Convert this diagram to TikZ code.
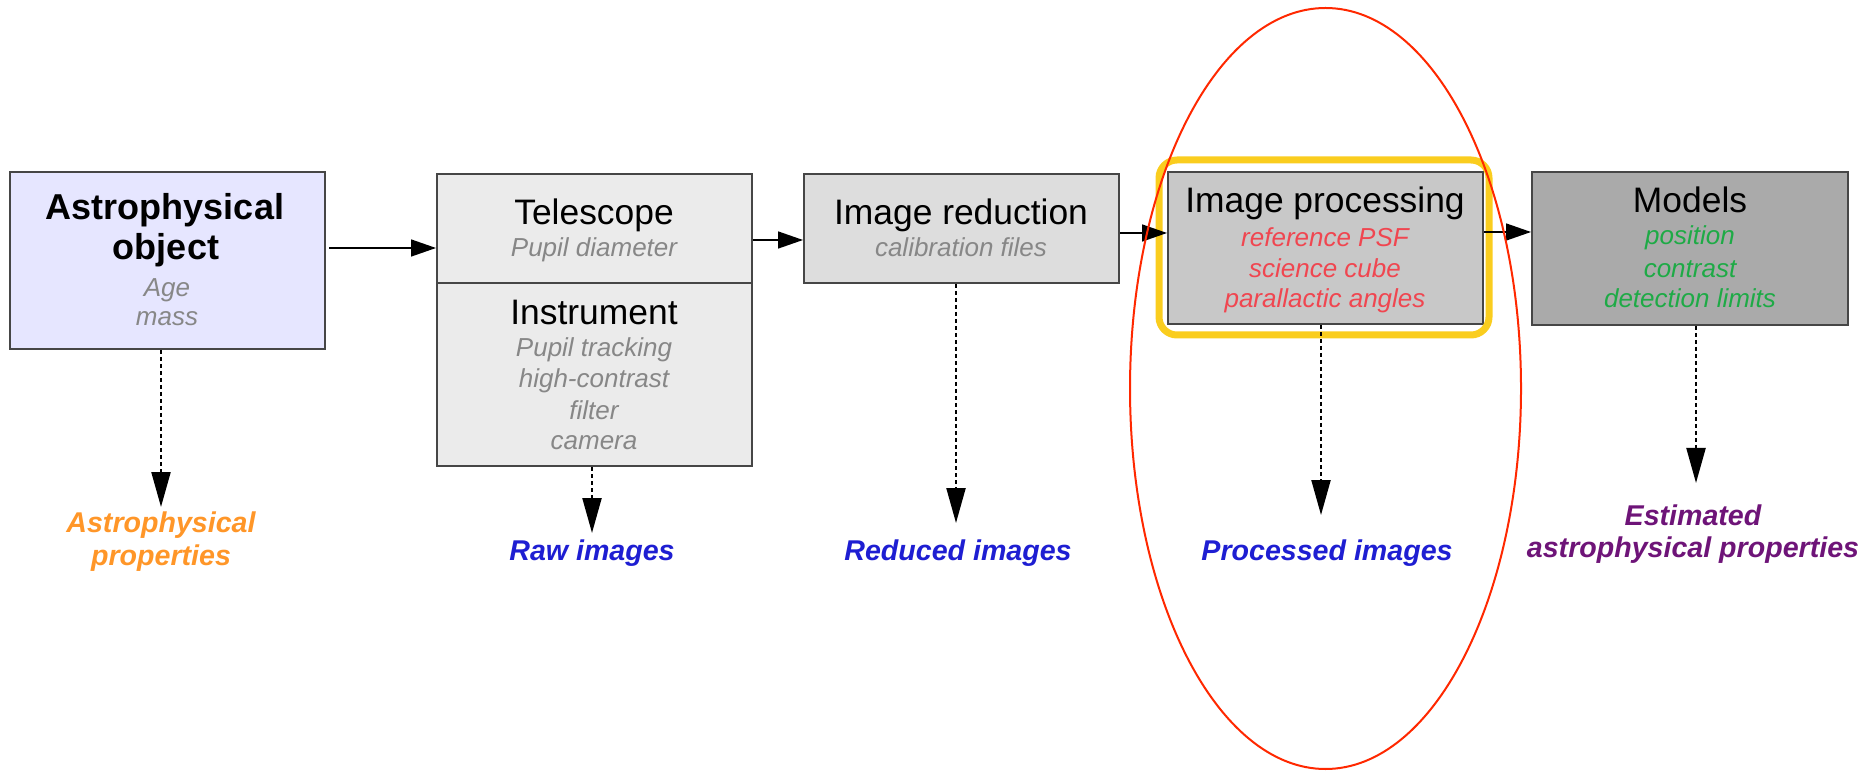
\documentclass[tikz,border=0pt]{standalone}
\usepackage{fontspec}
\setmainfont{Liberation Sans}
\usetikzlibrary{arrows.meta,fit}
\definecolor{objfill}{RGB}{230,230,255}
\definecolor{telfill}{RGB}{235,235,235}
\definecolor{redfill}{RGB}{221,221,221}
\definecolor{procfill}{RGB}{200,200,200}
\definecolor{modfill}{RGB}{170,170,170}
\definecolor{subgray}{RGB}{135,135,135}
\definecolor{subred}{RGB}{240,70,80}
\definecolor{subgreen}{RGB}{30,170,70}
\definecolor{lblorange}{RGB}{255,150,40}
\definecolor{lblblue}{RGB}{30,30,210}
\definecolor{lblpurple}{RGB}{110,20,120}
\definecolor{ellred}{RGB}{255,40,0}
\definecolor{yel}{RGB}{250,205,30}
\definecolor{edge}{RGB}{70,70,70}
\tikzset{
  box/.style={draw=edge, line width=1pt, inner sep=0pt},
  ttl/.style={font=\fontsize{17.7}{21}\selectfont, anchor=base, inner sep=0pt},
  bttl/.style={font=\fontsize{18}{21}\selectfont\bfseries, anchor=base, inner sep=0pt},
  sub/.style={font=\fontsize{13}{15}\selectfont\itshape, anchor=base, inner sep=0pt},
  lbl/.style={font=\fontsize{14.3}{17}\selectfont\bfseries\itshape, anchor=base, inner sep=0pt},
  flow/.style={-{Triangle[length=12.5pt,width=8.5pt]}, line width=0.75pt},
  outarrow/.style={dash pattern=on 2pt off 1.5pt, line width=1.1pt, -{Triangle[length=17.5pt,width=9.5pt]}},
  hilite/.style={draw=yel, line width=3.5pt, rounded corners=9pt},
  ellip/.style={draw=ellred, line width=1pt},
}
\begin{document}
\begin{tikzpicture}[x=0.5pt,y=-0.5pt]
\useasboundingbox (0,0) rectangle (1866,774);
% boxes
\node[box, fill=objfill, fit={(10,172) (325,349)}] (obj) {};
\node[box, fill=telfill, fit={(437,174) (752,466)}] (tel) {};
\node[box, fill=redfill, fit={(804,174) (1119,283)}] (red) {};
\node[box, fill=procfill, fit={(1168,172) (1483,324)}] (proc) {};
\node[box, fill=modfill, fit={(1532,172) (1848,325)}] (mod) {};
\coordinate (div) at (0,283);
\draw[draw=edge, line width=1pt] (tel.west |- div) -- (tel.east |- div);
% box 1 texts
\node[bttl] (t1a) at (165,220) {Astrophysical};
\node[bttl] (t1b) at (166,260) {object};
\node[sub, text=subgray] (s1a) at (167,297) {Age};
\node[sub, text=subgray] (s1b) at (167,326) {mass};
% box 2 texts
\node[ttl] (t2a) at (594,225) {Telescope};
\node[sub, text=subgray] (s2a) at (594,257) {Pupil diameter};
\node[ttl] (t2b) at (594,325) {Instrument};
\node[sub, text=subgray] (s2b) at (594,357) {Pupil tracking};
\node[sub, text=subgray] (s2c) at (594,388) {high-contrast};
\node[sub, text=subgray] (s2d) at (594,420) {filter};
\node[sub, text=subgray] (s2e) at (594,450) {camera};
% box 3 texts
\node[ttl] (t3a) at (961,225) {Image reduction};
\node[sub, text=subgray] (s3a) at (961,257) {calibration files};
% box 4 texts
\node[ttl] (t4a) at (1325,213) {Image processing};
\node[sub, text=subred] (s4a) at (1325,247) {reference PSF};
\node[sub, text=subred] (s4b) at (1325,278) {science cube};
\node[sub, text=subred] (s4c) at (1325,308) {parallactic angles};
% box 5 texts
\node[ttl] (t5a) at (1690,213) {Models};
\node[sub, text=subgreen] (s5a) at (1690,245) {position};
\node[sub, text=subgreen] (s5b) at (1690,278) {contrast};
\node[sub, text=subgreen] (s5c) at (1690,308) {detection limits};
% highlight
\draw[hilite] (1159,160) rectangle (1489,335);
% flow arrows
\coordinate (f1) at (0,248);
\coordinate (f2) at (0,240);
\coordinate (f3) at (0,233);
\coordinate (f4) at (0,232);
\draw[flow] ([xshift=1.5pt]obj.east |- f1) -- (tel.west |- f1);
\draw[flow] (tel.east |- f2) -- (red.west |- f2);
\draw[flow] (red.east |- f3) -- (proc.west |- f3);
\draw[flow] (proc.east |- f4) -- (mod.west |- f4);
% output arrows
\coordinate (e1) at (161,507);
\coordinate (e2) at (592,533);
\coordinate (e3) at (956,523);
\coordinate (e4) at (1321,515);
\coordinate (e5) at (1696,483);
\draw[outarrow] (obj.south -| e1) -- (e1);
\draw[outarrow] (tel.south -| e2) -- (e2);
\draw[outarrow] (red.south -| e3) -- (e3);
\draw[outarrow] (proc.south -| e4) -- (e4);
\draw[outarrow] (mod.south -| e5) -- (e5);
% output labels
\node[lbl, text=lblorange] (l1a) at (161,532) {Astrophysical};
\node[lbl, text=lblorange] (l1b) at (161,565) {properties};
\node[lbl, text=lblblue] (l2) at (592,560) {Raw images};
\node[lbl, text=lblblue] (l3) at (958,560) {Reduced images};
\node[lbl, text=lblblue] (l4) at (1327,560) {Processed images};
\node[lbl, text=lblpurple] (l5a) at (1693,525) {Estimated};
\node[lbl, text=lblpurple] (l5b) at (1693,557) {astrophysical properties};
% ellipse
\draw[ellip] (1325.5,388.5) ellipse [x radius=97.75pt, y radius=190.25pt];
\end{tikzpicture}
\end{document}
